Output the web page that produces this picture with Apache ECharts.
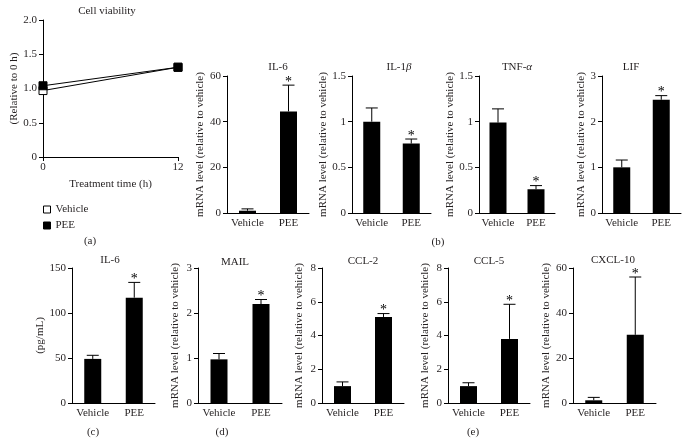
<!DOCTYPE html>
<html><head><meta charset="utf-8">
<script src="https://cdn.jsdelivr.net/npm/echarts@6/dist/echarts.min.js"></script>
<style>html,body{margin:0;padding:0;background:#fff}#c{width:693px;height:444px}</style>
</head><body><div id="c"></div>
<script>
// ---- data ----
const timeHours = [0, 12];
const viabilityVehicle = [0.97, 1.31];
const viabilityPEE = [1.04, 1.31];
const viabilityTicks = [0, 0.5, 1.0, 1.5, 2.0];

const groups = ['Vehicle', 'PEE'];
const significant = [false, true];

const il6mRNAMean = [1.0, 44.5];   const il6mRNAUpper = [1.8, 56];
const il1bMean = [1.0, 0.76];      const il1bUpper = [1.15, 0.81];
const tnfaMean = [0.99, 0.26];     const tnfaUpper = [1.14, 0.30];
const lifMean = [1.0, 2.48];       const lifUpper = [1.16, 2.57];
const il6ProteinMean = [49, 117];  const il6ProteinUpper = [53, 134];
const mailMean = [0.97, 2.2];      const mailUpper = [1.1, 2.3];
const ccl2Mean = [1.0, 5.1];       const ccl2Upper = [1.25, 5.3];
const ccl5Mean = [1.0, 3.8];       const ccl5Upper = [1.2, 5.85];
const cxcl10Mean = [1.2, 30.3];    const cxcl10Upper = [2.5, 56];

// ---- layout / styles ----
const FONT = '"Liberation Serif", "DejaVu Serif", serif';
const TXT = '#231f20';
const MRNA = 'mRNA level (relative to vehicle)';

const panels = [
  {title: 'IL-6', mean: il6mRNAMean, upper: il6mRNAUpper, max: 60, interval: 20, name: MRNA, grid: {left: 227, top: 76, width: 82, height: 137}, gap: 16, tx: 278, ty: 67},
  {title: 'IL-1{i|β}', mean: il1bMean, upper: il1bUpper, max: 1.5, interval: 0.5, name: MRNA, grid: {left: 352, top: 76, width: 79, height: 137}, gap: 15, tx: 399, ty: 67},
  {title: 'TNF-{i|α}', mean: tnfaMean, upper: tnfaUpper, max: 1.5, interval: 0.5, name: MRNA, grid: {left: 479, top: 76, width: 76, height: 137}, gap: 15, tx: 517, ty: 67},
  {title: 'LIF', mean: lifMean, upper: lifUpper, max: 3, interval: 1, name: MRNA, grid: {left: 602, top: 76, width: 79, height: 137}, gap: 15, tx: 631, ty: 67},
  {title: 'IL-6', mean: il6ProteinMean, upper: il6ProteinUpper, max: 150, interval: 50, name: '(pg/mL)', grid: {left: 72, top: 268, width: 83, height: 135}, gap: 24, tx: 110, ty: 260},
  {title: 'MAIL', mean: mailMean, upper: mailUpper, max: 3, interval: 1, name: MRNA, grid: {left: 198, top: 268, width: 84, height: 135}, gap: 17, tx: 235, ty: 262},
  {title: 'CCL-2', mean: ccl2Mean, upper: ccl2Upper, max: 8, interval: 2, name: MRNA, grid: {left: 322, top: 268, width: 82, height: 135}, gap: 17, tx: 363, ty: 261},
  {title: 'CCL-5', mean: ccl5Mean, upper: ccl5Upper, max: 8, interval: 2, name: MRNA, grid: {left: 448, top: 268, width: 82, height: 135}, gap: 17, tx: 489, ty: 261},
  {title: 'CXCL-10', mean: cxcl10Mean, upper: cxcl10Upper, max: 60, interval: 20, name: MRNA, grid: {left: 573, top: 268, width: 83, height: 135}, gap: 17, tx: 613, ty: 260}
];

const axisLine = {show: true, lineStyle: {color: '#000', width: 1}};
const tickStyle = {show: true, length: 4, inside: false, lineStyle: {color: '#000', width: 1}};
const labelStyle = {color: TXT, fontFamily: FONT, fontSize: 11};

const grids = [], xAxes = [], yAxes = [], series = [], graphics = [];

// panel (a) line chart
grids.push({left: 43, top: 20, width: 135, height: 137});
xAxes.push({type: 'value', gridIndex: 0, min: 0, max: 12, interval: 12,
  axisLine, axisTick: tickStyle, splitLine: {show: false},
  axisLabel: Object.assign({margin: 5}, labelStyle),
  name: 'Treatment time (h)', nameLocation: 'middle', nameGap: 22,
  nameTextStyle: {color: TXT, fontFamily: FONT, fontSize: 11}});
yAxes.push({type: 'value', gridIndex: 0, min: viabilityTicks[0], max: viabilityTicks[viabilityTicks.length - 1], interval: 0.5,
  axisLine, axisTick: tickStyle, splitLine: {show: false},
  axisLabel: Object.assign({margin: 6, formatter: v => v === 0 ? '0' : v.toFixed(1)}, labelStyle),
  name: '(Relative to 0 h)', nameLocation: 'middle', nameGap: 21,
  nameTextStyle: {color: TXT, fontFamily: FONT, fontSize: 11}});
series.push({type: 'line', name: 'Vehicle', xAxisIndex: 0, yAxisIndex: 0,
  data: timeHours.map((t, i) => [t, viabilityVehicle[i]]),
  symbol: 'rect', symbolSize: 8, lineStyle: {color: '#000', width: 1},
  itemStyle: {color: '#fff', borderColor: '#000', borderWidth: 1}, z: 3});
series.push({type: 'line', name: 'PEE', xAxisIndex: 0, yAxisIndex: 0,
  data: timeHours.map((t, i) => [t, viabilityPEE[i]]),
  symbol: 'rect', symbolSize: 8, lineStyle: {color: '#000', width: 1},
  itemStyle: {color: '#000', borderColor: '#000', borderWidth: 1}, z: 4});

function errRender(params, api) {
  const x = api.value(0), mean = api.value(1), up = api.value(2), star = api.value(3);
  const p0 = api.coord([x, mean]);
  const p1 = api.coord([x, up]);
  const ch = [
    {type: 'line', shape: {x1: p0[0], y1: p0[1], x2: p1[0], y2: p1[1]}, style: {stroke: '#000', lineWidth: 1}},
    {type: 'line', shape: {x1: p1[0] - 6, y1: p1[1], x2: p1[0] + 6, y2: p1[1]}, style: {stroke: '#000', lineWidth: 1}}
  ];
  if (star) ch.push({type: 'text', style: {text: '*', x: p1[0], y: p1[1] - 3, align: 'center', verticalAlign: 'middle', font: '14px ' + FONT, fill: '#000'}});
  return {type: 'group', children: ch};
}

panels.forEach((p, k) => {
  const gi = k + 1;
  grids.push(p.grid);
  xAxes.push({type: 'category', gridIndex: gi, data: groups,
    axisLine, axisTick: {show: false}, axisLabel: Object.assign({margin: 5, interval: 0}, labelStyle)});
  yAxes.push({type: 'value', gridIndex: gi, min: 0, max: p.max, interval: p.interval,
    axisLine, axisTick: tickStyle, splitLine: {show: false},
    axisLabel: Object.assign({margin: 6}, labelStyle),
    name: p.name, nameLocation: 'middle', nameGap: p.gap,
    nameTextStyle: {color: TXT, fontFamily: FONT, fontSize: 11}});
  series.push({type: 'bar', xAxisIndex: gi, yAxisIndex: gi, data: p.mean, barWidth: 17,
    itemStyle: {color: '#000'}, silent: true});
  series.push({type: 'custom', xAxisIndex: gi, yAxisIndex: gi, renderItem: errRender,
    data: p.mean.map((m, i) => [i, m, p.upper[i], significant[i] ? 1 : 0]), z: 5, silent: true});
  graphics.push({type: 'text', x: p.tx, y: p.ty,
    style: {text: p.title, align: 'center', verticalAlign: 'middle', font: '11px ' + FONT, fill: TXT,
      rich: {i: {fontStyle: 'italic', fontFamily: FONT, fontSize: 11}}}});
});

graphics.push({type: 'text', x: 107, y: 11, style: {text: 'Cell viability', align: 'center', verticalAlign: 'middle', font: '11px ' + FONT, fill: TXT}});
[['(a)', 90, 241], ['(b)', 438, 242], ['(c)', 93, 432], ['(d)', 222, 432], ['(e)', 473, 432]].forEach(l => {
  graphics.push({type: 'text', x: l[1], y: l[2], style: {text: l[0], align: 'center', verticalAlign: 'middle', font: '11px ' + FONT, fill: TXT}});
});

const chart = echarts.init(document.getElementById('c'), null, {renderer: 'canvas'});
chart.setOption({
  animation: false,
  backgroundColor: '#fff',
  textStyle: {fontFamily: FONT},
  grid: grids, xAxis: xAxes, yAxis: yAxes, series: series,
  legend: {orient: 'vertical', left: 43, top: 204, padding: 0, itemWidth: 7, itemHeight: 7, itemGap: 5,
    textStyle: {color: TXT, fontFamily: FONT, fontSize: 11},
    data: [
      {name: 'Vehicle', icon: 'rect', itemStyle: {color: '#fff', borderColor: '#000', borderWidth: 1}},
      {name: 'PEE', icon: 'rect', itemStyle: {color: '#000', borderColor: '#000', borderWidth: 1}}
    ]},
  graphic: graphics
});
</script></body></html>
